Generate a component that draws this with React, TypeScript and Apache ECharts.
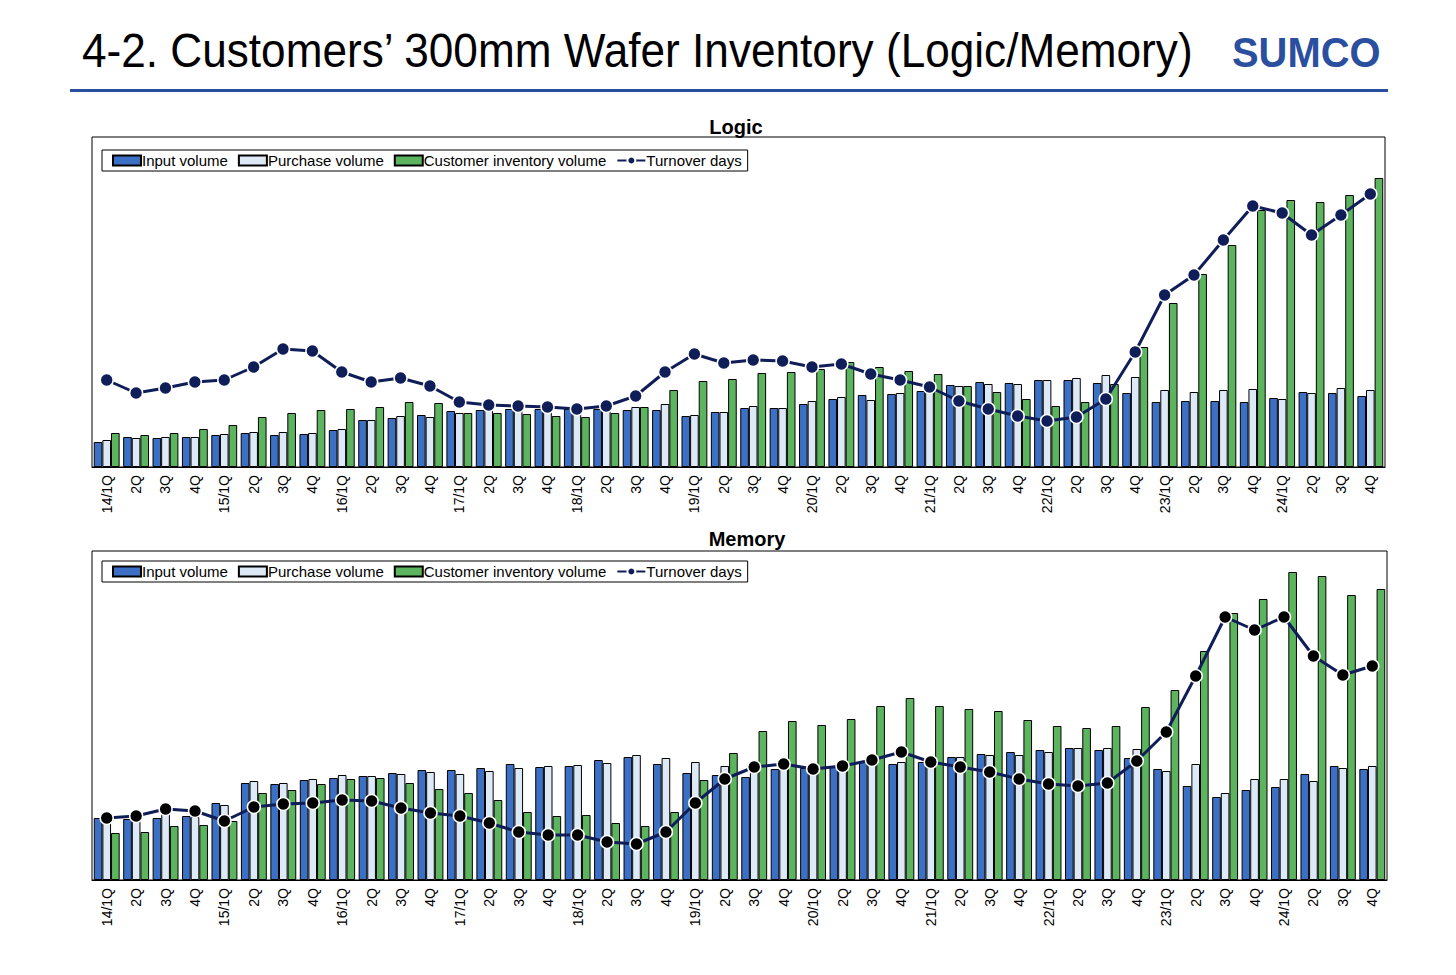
import { useEffect, useRef } from 'react';
import * as echarts from 'echarts';

const quarters = [
  '14/1Q', '2Q', '3Q', '4Q', '15/1Q', '2Q', '3Q', '4Q', '16/1Q', '2Q', '3Q', '4Q',
  '17/1Q', '2Q', '3Q', '4Q', '18/1Q', '2Q', '3Q', '4Q', '19/1Q', '2Q', '3Q', '4Q',
  '20/1Q', '2Q', '3Q', '4Q', '21/1Q', '2Q', '3Q', '4Q', '22/1Q', '2Q', '3Q', '4Q',
  '23/1Q', '2Q', '3Q', '4Q', '24/1Q', '2Q', '3Q', '4Q',
];

// Logic (relative scale, no axis values shown in the source)
const logicInput = [25, 30, 29, 30, 32, 34, 32, 33, 37, 47, 49, 52, 56, 57, 58, 58, 58, 58, 57, 57, 51, 55, 59, 59, 63, 68, 72, 73, 76, 82, 85, 84, 87, 87, 84, 74, 65, 66, 66, 65, 69, 75, 74, 71];
const logicPurchase = [27, 29, 30, 30, 33, 35, 35, 34, 38, 47, 51, 50, 54, 57, 57, 58, 58, 57, 60, 63, 52, 55, 61, 59, 66, 70, 67, 74, 76, 81, 83, 83, 87, 89, 92, 90, 77, 75, 77, 78, 68, 74, 79, 77];
const logicInventory = [34, 32, 34, 38, 42, 50, 54, 57, 58, 60, 65, 64, 54, 54, 53, 51, 50, 54, 60, 77, 86, 88, 94, 95, 98, 105, 100, 96, 93, 81, 75, 68, 61, 65, 83, 120, 164, 193, 222, 257, 267, 265, 272, 289];
const logicTurnover = [87, 74, 79, 85, 87, 100, 118, 116, 95, 85, 89, 81, 65, 62, 61, 60, 58, 61, 71, 95, 113, 104, 107, 106, 100, 103, 93, 87, 80, 66, 58, 51, 46, 50, 68, 115, 172, 192, 227, 261, 254, 232, 252, 273];

// Memory
const memInput = [62, 61, 62, 64, 77, 97, 96, 100, 102, 104, 107, 110, 110, 112, 116, 113, 114, 120, 123, 116, 107, 105, 103, 111, 112, 114, 118, 116, 118, 123, 126, 128, 130, 132, 130, 122, 111, 94, 83, 90, 93, 106, 114, 111];
const memPurchase = [62, 61, 69, 63, 75, 99, 97, 101, 105, 104, 106, 108, 106, 109, 112, 114, 115, 117, 125, 122, 118, 114, 111, 114, 112, 113, 116, 118, 117, 123, 125, 125, 128, 132, 132, 131, 109, 116, 87, 101, 101, 99, 112, 114];
const memInventory = [47, 48, 54, 55, 59, 87, 90, 96, 101, 102, 97, 91, 87, 80, 68, 64, 65, 57, 54, 68, 100, 127, 149, 159, 155, 161, 174, 182, 174, 171, 169, 160, 154, 152, 154, 173, 190, 229, 267, 281, 308, 304, 285, 291];
const memTurnover = [62, 64, 71, 69, 59, 73, 76, 77, 80, 79, 72, 67, 64, 57, 48, 45, 45, 38, 36, 48, 77, 101, 113, 116, 111, 114, 120, 128, 118, 113, 108, 101, 96, 94, 97, 119, 148, 204, 263, 250, 263, 224, 205, 214];

const names = ['Input volume', 'Purchase volume', 'Customer inventory volume', 'Turnover days'];
const font = 'Liberation Sans, Arial, sans-serif';

export default function App() {
  const ref = useRef<HTMLDivElement>(null);

  useEffect(() => {
    if (!ref.current) return;
    const chart = echarts.init(ref.current, null, { renderer: 'svg' });

    const bar = (name: string, data: number[], idx: number, color: string) => ({
      name,
      type: 'bar',
      data,
      xAxisIndex: idx,
      yAxisIndex: idx,
      barGap: '0%',
      barCategoryGap: '12%',
      itemStyle: { color, borderColor: '#000', borderWidth: 1 },
    });
    const line = (data: number[], idx: number, dot: string) => ({
      name: 'Turnover days',
      type: 'line',
      data,
      xAxisIndex: idx,
      yAxisIndex: idx,
      symbol: 'circle',
      symbolSize: 13,
      lineStyle: { color: '#0f1d58', width: 3 },
      itemStyle: { color: dot, borderColor: '#fff', borderWidth: 1.5 },
      z: 5,
    });
    const xAxis = (idx: number) => ({
      type: 'category',
      gridIndex: idx,
      data: quarters,
      axisLine: { lineStyle: { color: '#000', width: 1 } },
      axisTick: { interval: 0, length: 6, lineStyle: { color: '#000' } },
      axisLabel: { interval: 0, rotate: 90, color: '#000', fontSize: 14, fontFamily: font, margin: 8 },
    });
    const legend = (top: number) => ({
      top,
      left: 94,
      orient: 'horizontal',
      itemGap: 10,
      itemWidth: 28,
      itemHeight: 10,
      padding: [3, 6, 3, 10],
      borderColor: '#000',
      borderWidth: 1,
      textStyle: { fontSize: 15, fontFamily: font, color: '#000', padding: [0, 0, 0, -4] },
      data: [
        { name: names[0], icon: 'rect' },
        { name: names[1], icon: 'rect' },
        { name: names[2], icon: 'rect' },
        { name: names[3] },
      ],
    });

    chart.setOption({
      animation: false,
      title: [
        { text: 'Logic', left: 723, top: 104, textAlign: 'center', textStyle: { fontSize: 20, fontWeight: 'bold', fontFamily: font, color: '#000' } },
        { text: 'Memory', left: 734, top: 516, textAlign: 'center', textStyle: { fontSize: 20, fontWeight: 'bold', fontFamily: font, color: '#000' } },
      ],
      legend: [legend(142), legend(553)],
      grid: [
        { left: 84, top: 129, width: 1293, height: 330, show: true, borderColor: '#000', borderWidth: 1, backgroundColor: 'transparent' },
        { left: 84, top: 543, width: 1295, height: 329, show: true, borderColor: '#000', borderWidth: 1, backgroundColor: 'transparent' },
      ],
      xAxis: [xAxis(0), xAxis(1)],
      yAxis: [
        { type: 'value', gridIndex: 0, min: 0, max: 330, show: false },
        { type: 'value', gridIndex: 1, min: 0, max: 329, show: false },
      ],
      series: [
        bar(names[0], logicInput, 0, '#3b70c4'),
        bar(names[1], logicPurchase, 0, '#dde9f6'),
        bar(names[2], logicInventory, 0, '#5cb45e'),
        line(logicTurnover, 0, '#0f1d58'),
        bar(names[0], memInput, 1, '#3b70c4'),
        bar(names[1], memPurchase, 1, '#dde9f6'),
        bar(names[2], memInventory, 1, '#5cb45e'),
        line(memTurnover, 1, '#000'),
      ],
      graphic: [
        { type: 'text', x: 74, y: 18, scaleX: 0.92, style: { text: '4-2. Customers’ 300mm Wafer Inventory (Logic/Memory)', font: '48px "Liberation Sans", Arial, sans-serif', fill: '#000' } },
        { type: 'rect', shape: { x: 62, y: 81, width: 1318, height: 3 }, style: { fill: '#2b4f9f' } },
        { type: 'text', x: 1224, y: 24, scaleX: 0.95, style: { text: 'SUMCO', font: 'bold 42px "Liberation Sans", Arial, sans-serif', fill: '#2b4f9f' } },
      ],
    });

    return () => chart.dispose();
  }, []);

  return <div ref={ref} style={{ width: 1440, height: 959 }} />;
}
